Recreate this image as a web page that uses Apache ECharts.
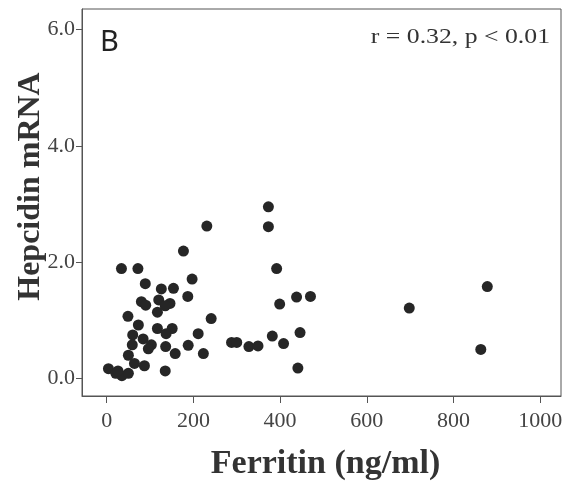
<!DOCTYPE html>
<html>
<head>
<meta charset="utf-8">
<script src="https://cdn.jsdelivr.net/npm/echarts@6/dist/echarts.min.js"></script>
<style>html,body{margin:0;padding:0;background:#fff;}#chart{width:567px;height:481px;}</style>
</head>
<body>
<div id="chart"></div>
<script>
const ferritin = [373,373,231,177,34,72,392,197,89,126,154,187,438,470,80,90,120,146,135,399,117,49,241,73,117,151,137,60,211,84,446,382,288,300,408,328,349,59,103,96,136,188,50,158,223,64,87,4,21,35,50,26,135,441,698,878,863];
const hepcidin = [2.95,2.61,2.62,2.19,1.89,1.89,1.89,1.71,1.63,1.54,1.55,1.41,1.40,1.41,1.32,1.26,1.35,1.29,1.25,1.28,1.14,1.07,1.03,0.92,0.86,0.86,0.77,0.75,0.77,0.68,0.79,0.73,0.62,0.62,0.60,0.55,0.56,0.58,0.58,0.51,0.55,0.57,0.40,0.43,0.43,0.26,0.22,0.17,0.09,0.05,0.09,0.13,0.13,0.18,1.21,1.58,0.50];
const xTicks = [0,200,400,600,800,1000];
const yTicks = [0,2,4,6];
const panelLabel = 'B';
const statText = 'r = 0.32, p < 0.01';
const xTitle = 'Ferritin (ng/ml)';
const yTitle = 'Hepcidin mRNA';

const points = ferritin.map((f, i) => [f, hepcidin[i]]);
const chart = echarts.init(document.getElementById('chart'));
const serif = '"Liberation Serif", "Times New Roman", serif';
chart.setOption({
  backgroundColor: '#ffffff',
  animation: false,
  grid: { left: 82, right: 6, top: 9, bottom: 85, containLabel: false, outerBoundsMode: 'none', show: true, borderColor: '#555', borderWidth: 1, backgroundColor: 'transparent' },
  xAxis: {
    type: 'value', min: -57, max: 1048,
    name: xTitle, nameLocation: 'middle', nameGap: 51,
    nameTextStyle: { fontFamily: serif, fontWeight: 'bold', fontSize: 34, color: '#333', padding: [0, 0, 0, 8] },
    splitLine: { show: false },
    axisLine: { show: true, onZero: false, lineStyle: { color: '#555', width: 1 } },
    axisTick: { show: true, inside: false, length: 7, customValues: xTicks, lineStyle: { color: '#555' } },
    axisLabel: { customValues: xTicks, margin: 14, fontFamily: serif, fontSize: 22, color: '#444', formatter: v => String(v) }
  },
  yAxis: {
    type: 'value', min: -0.3, max: 6.35,
    name: yTitle, nameLocation: 'middle', nameGap: 35, nameRotate: 90, nameMoveOverlap: false,
    nameTextStyle: { fontFamily: serif, fontWeight: 'bold', fontSize: 32, color: '#333', padding: [0, 0, 0, 32] },
    splitLine: { show: false },
    axisLine: { show: true, onZero: false, lineStyle: { color: '#555', width: 1 } },
    axisTick: { show: true, inside: false, length: 6, customValues: yTicks, lineStyle: { color: '#555' } },
    axisLabel: { customValues: yTicks, margin: 7, fontFamily: serif, fontSize: 22, color: '#444', formatter: v => v.toFixed(1) }
  },
  graphic: [
    { type: 'text', left: 100, top: 28, style: { text: panelLabel, fontFamily: '"Noto Sans", sans-serif', fontSize: 29, fill: '#222' } },
    { type: 'text', x: 550, y: 37, scaleX: 1.17, style: { text: statText, fontFamily: serif, fontSize: 22, fill: '#333', textAlign: 'right', textVerticalAlign: 'middle' } }
  ],
  series: [{
    type: 'scatter', data: points, symbol: 'circle', symbolSize: 11,
    itemStyle: { color: '#262626', opacity: 1 }
  }]
});
</script>
</body>
</html>
